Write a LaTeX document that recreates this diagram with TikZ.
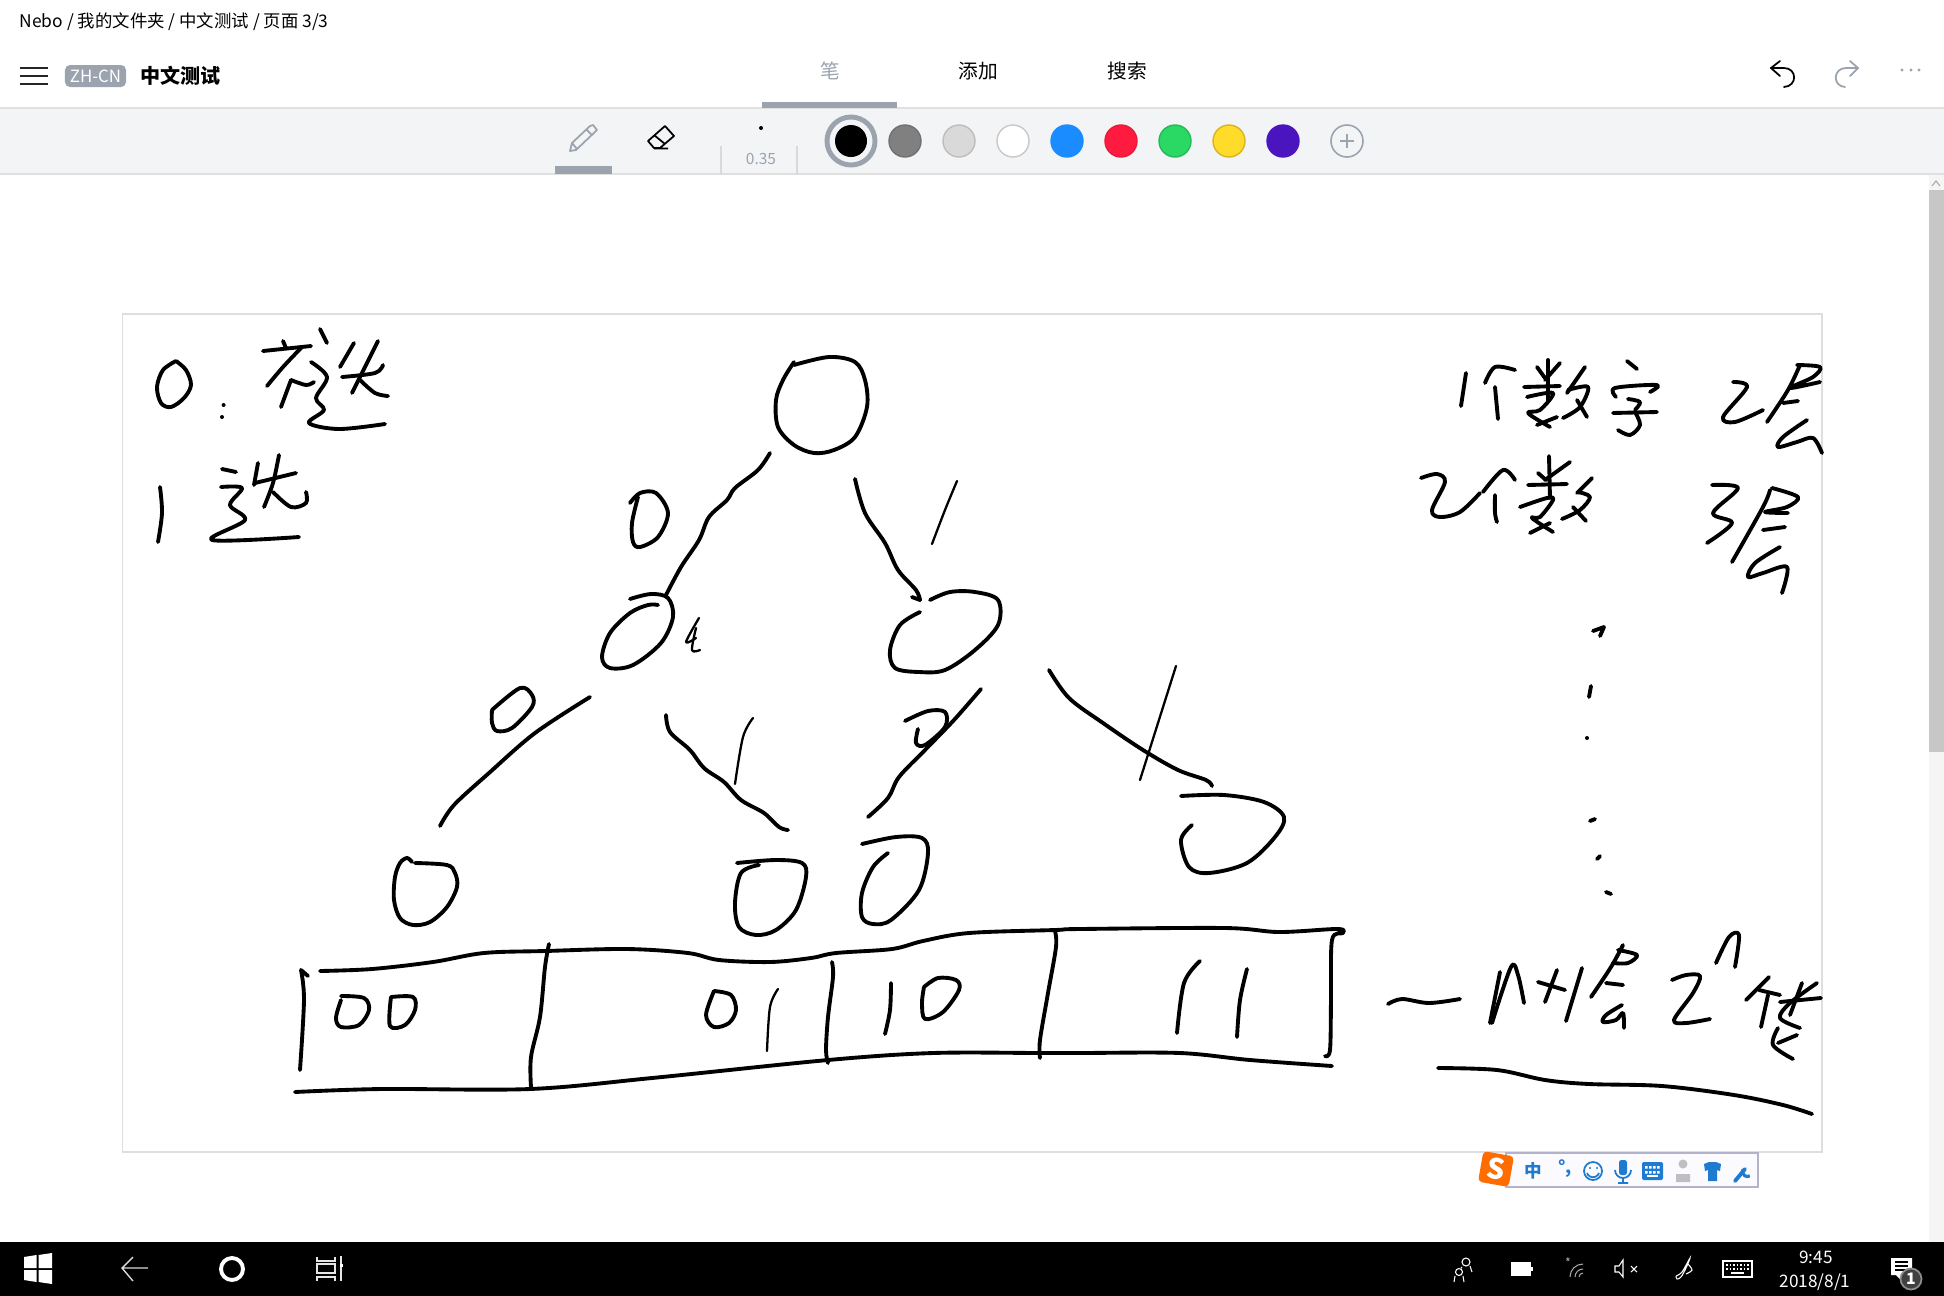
\documentclass[tikz,border=0pt]{standalone}
\usepackage{fontspec}
\setmainfont{Noto Sans CJK SC}
\definecolor{uigray}{HTML}{9AA3AE}
\definecolor{barbg}{HTML}{F3F4F6}
\definecolor{sogoublue}{HTML}{1F7BD0}
\newcommand{\pen}[2][ink]{\draw[#1] plot[smooth, tension=0.55] coordinates {#2};}
\tikzset{
	ink/.style={black, line width=1.1pt, line cap=round, line join=round},
	thinink/.style={black, line width=0.65pt, line cap=round, line join=round},
	label/.style={inner sep=0pt, font=\fontsize{5.6}{6}\selectfont},
	swatch/.style={line width=0.4pt},
	tray/.style={white, line width=0.3pt},
	ime/.style={sogoublue, line width=0.5pt}
}
\begin{document}
\begin{tikzpicture}[x=0.01cm, y=-0.01cm]
	\useasboundingbox (0,0) rectangle (1944,1296);
	\fill[white] (0,0) rectangle (1944,1296);

	% header
	\node[label, anchor=west, font=\fontsize{4.95}{5}\selectfont] (crumb) at (19,22) {Nebo / 我的文件夹 / 中文测试 / 页面 3/3};
	\foreach \y in {68,76,84}
		\draw[black!85, line width=0.6pt] (20,\y) -- (48,\y);
	\node[fill=uigray, rounded corners=0.5mm, text=white, inner sep=0pt, minimum width=6.1mm, minimum height=2.2mm, font=\fontsize{4.8}{5}\selectfont] (badge) at (95.5,76) {ZH-CN};
	\node[label, anchor=west, font=\fontsize{5.7}{6}\bfseries] (title) at (140,76) {中文测试};
	\node[label, text=uigray] (tabpen) at (830,71) {笔};
	\node[label] (tabadd) at (978,71) {添加};
	\node[label] (tabsearch) at (1127,71) {搜索};
	\draw[line width=0.5pt, line cap=round, line join=round] (1780,61) -- (1771,68) -- (1780,76);
	\draw[line width=0.5pt, line cap=round] (1771,68) -- (1784,68) .. controls (1797,68) and (1798,86) .. (1784,87);
	\draw[uigray, line width=0.5pt, line cap=round, line join=round] (1850,61) -- (1858,68) -- (1850,76);
	\draw[uigray, line width=0.5pt, line cap=round] (1858,68) -- (1846,68) .. controls (1833,68) and (1832,86) .. (1845,87);
	\foreach \x in {1902,1911,1919}
		\fill[uigray] (\x,70) circle[radius=1.7];

	% toolbar
	\fill[barbg] (0,108) rectangle (1944,174);
	\draw[black!12, line width=0.5pt] (0,108) -- (1944,108) (0,174) -- (1944,174);
	\fill[uigray] (762,102) rectangle (897,108);
	\draw[uigray, line width=0.5pt, line join=round] (570,151) -- (572,143) -- (590,126) -- (593,125) -- (597,130) -- (576,150) -- cycle (572,143) -- (577,149) (587,130) -- (592,135);
	\fill[uigray] (555,166) rectangle (612,174);
	\draw[line width=0.5pt, line join=round] (665,126) -- (674,136) -- (660,148) -- (654,148) -- (648,141) -- cycle (654,135) -- (665,144) (654,148.5) -- (668,148.5);
	\fill (761,128) circle[radius=2];
	\draw[black!15, line width=0.4pt] (721,146) -- (721,174) (797,146) -- (797,174);
	\node[label, text=uigray, font=\fontsize{4.4}{5}\selectfont] (penwidth) at (761,159) {0.35};
	\draw[uigray, line width=1.4pt] (851,141) circle[radius=24];
	\fill[black] (851,141) circle[radius=16];
	\foreach \x/\fillc/\drawc in {905/808080/707070, 959/D9D9D9/BDBDBD, 1013/FFFFFF/C8C8C8, 1067/1A8CFF/1A8CFF, 1121/FF1A40/E81A3C, 1175/2AD964/25B858, 1229/FFDB2A/D8B520, 1283/4A14BF/4A14BF}{
		\definecolor{cfill}{HTML}{\fillc}
		\definecolor{cdraw}{HTML}{\drawc}
		\filldraw[swatch, fill=cfill, draw=cdraw] (\x,141) circle[radius=16];
	}
	\draw[uigray, line width=0.45pt] (1347,141) circle[radius=16];
	\draw[uigray, line width=0.45pt] (1340,141) -- (1354,141) (1347,134) -- (1347,148);

	% scrollbar
	\fill[black!4] (1929,175) rectangle (1944,1242);
	\fill[black!22] (1929,190) rectangle (1944,752);
	\draw[black!35, line width=0.3pt] (1932,186) -- (1936,181) -- (1940,186);

	% page
	\draw[black!13, line width=0.55pt] (122.5,314) rectangle (1822,1152);

	% legend
	\pen{(176,361) (186,370) (191,385) (184,398) (171,407) (161,403) (157,387) (163,370) (176,361)}
	\fill (223.6,405) circle[radius=2] (222,417) circle[radius=2];
	\pen{(263,351) (311,346)}
	\pen{(283,341) (286,348)}
	\pen{(301,348) (283,367) (267,386)}
	\pen{(291,380) (281,407)}
	\pen{(291,380) (306,385) (314,382)}
	\pen{(320,329) (327,343)}
	\pen{(311,362) (327,377) (316,398) (324,410) (309,423) (339,429) (385,424)}
	\pen{(354,343) (340,367)}
	\pen{(378,341) (365,367) (352,393)}
	\pen{(342,377) (375,373) (383,365)}
	\pen{(360,380) (375,393) (388,396)}
	\pen{(160,487) (162,513) (158,542)}
	\pen{(222,469) (236,472)}
	\pen{(221,487) (242,488) (230,505) (245,520) (212,540) (299,537)}
	\pen{(258,463) (254,485)}
	\pen{(279,455) (273,483) (264,507)}
	\pen{(255,483) (296,473)}
	\pen{(273,492) (291,507) (306,503) (306,492)}

	% tree
	\pen{(794,365) (829,357) (855,362) (865,380) (867,407) (855,437) (834,450) (814,453) (794,445) (778,427) (776,400) (783,380) (794,362)}
	\pen{(770,453) (758,470) (735,488) (727,500) (709,517) (699,540) (681,567) (666,595)}
	\pen{(855,479) (865,513) (885,543) (898,570) (916,590) (920,600)}
	\pen{(912,597) (920,600)}
	\pen{(630,503) (640,493) (656,493) (668,513) (658,537) (640,547) (633,542) (632,523) (638,497)}
	\pen[thinink]{(957,481) (945,510) (932,544)}
	\pen{(630,599) (651,594) (668,598) (673,617) (661,643) (633,665) (610,668) (602,657) (610,633) (630,613) (648,605) (658,605)}
	\pen[thinink]{(699,618) (686,642) (696,638)}
	\pen[thinink]{(696,628) (692,650) (700,650)}
	\pen{(920,612) (900,625) (890,650) (895,668) (919,672) (945,670) (975,650) (998,625) (998,600) (975,592) (950,592) (930,600)}

	\pen{(492,710) (520,688) (532,695) (532,707) (512,728) (497,731) (492,723) (492,710)}
	\pen{(590,697) (535,733) (489,773) (454,805) (440,826)}
	\pen{(666,715) (670,732) (690,750) (704,768) (724,782) (741,800) (764,813) (779,827) (788,830)}
	\pen[thinink]{(753,718) (743,737) (735,784)}
	\pen{(981,689) (954,720) (925,750) (899,777) (888,798) (868,817)}
	\pen{(905,721) (928,711) (945,712) (945,727) (925,745) (916,743) (918,729)}
	\pen{(1049,670) (1069,698) (1103,723) (1143,750) (1178,770) (1206,780) (1212,786)}
	\pen[thinink]{(1176,666) (1140,780)}

	\pen{(415,863) (447,865) (455,873) (457,887) (447,907) (430,922) (413,925) (400,918) (394,900) (395,877) (400,863) (407,858) (412,862)}
	\pen{(737,863) (776,860) (802,863) (806,877) (796,910) (776,930) (756,935) (739,927) (735,903) (741,873) (759,865)}
	\pen{(862,844) (896,837) (922,838) (928,853) (919,890) (891,920) (873,924) (862,917) (862,893) (873,867) (888,853)}
	\pen{(1181,796) (1224,795) (1264,802) (1284,817) (1275,837) (1247,863) (1209,873) (1189,867) (1181,840) (1192,825)}

	% table
	\pen{(301,970) (304,1000) (300,1070)}
	\pen{(301,970) (308,976)}
	\pen{(320,971) (372,969) (433,962) (484,953) (545,951) (627,949) (688,953) (719,960) (770,962) (811,958) (836,953) (892,949) (923,941) (969,933) (1055,930) (1080,929) (1225,928) (1279,932) (1337,929) (1343,933) (1332,940) (1331,1000) (1330,1050) (1325,1056)}
	\pen{(295,1092) (382,1089) (530,1089) (652,1078) (828,1060) (933,1053) (1040,1053) (1080,1053) (1180,1053) (1250,1060) (1332,1066)}
	\pen{(549,944) (545,967) (540,1017) (531,1057) (531,1087)}
	\pen{(832,962) (833,977) (828,1017) (826,1050) (828,1063)}
	\pen{(1055,931) (1056,947) (1048,993) (1040,1040) (1040,1058)}
	\pen{(341,996) (364,998) (369,1010) (359,1025) (341,1027) (336,1018) (341,1000)}
	\pen{(391,997) (413,997) (415,1010) (405,1025) (390,1026) (391,997)}
	\pen{(714,991) (731,995) (736,1010) (729,1023) (714,1027) (706,1015) (714,991)}
	\pen[thinink]{(778,989) (770,1007) (767,1051)}
	\pen{(891,983) (890,1010) (885,1034)}
	\pen{(924,987) (938,978) (956,980) (959,990) (943,1012) (925,1019) (922,1003) (924,987)}
	\pen{(1200,961) (1184,983) (1177,1033)}
	\pen{(1247,969) (1240,1000) (1237,1037)}

	% notes on the right
	\pen{(1466,373) (1461,406)}
	\pen{(1485,383) (1495,367) (1515,370)}
	\pen{(1495,387) (1498,419)}
	\pen{(1537,367) (1545,378)}
	\pen{(1560,363) (1545,380)}
	\pen{(1524,387) (1560,386)}
	\pen{(1548,360) (1548,400)}
	\pen{(1527,397) (1553,393) (1540,410) (1528,413) (1550,427)}
	\pen{(1537,425) (1557,417)}
	\pen{(1585,367) (1567,393)}
	\pen{(1568,390) (1588,387) (1580,407) (1563,418)}
	\pen{(1577,400) (1587,417)}
	\pen{(1627,361) (1637,369)}
	\pen{(1616,397) (1615,388) (1657,385) (1650,392)}
	\pen{(1628,399) (1640,402) (1635,410)}
	\pen{(1613,413) (1657,412)}
	\pen{(1635,412) (1640,425) (1630,435) (1618,430)}
	\pen{(1733,382) (1747,387) (1723,417) (1735,422) (1763,410)}
	\pen{(1800,365) (1788,390) (1767,422)}
	\pen{(1797,365) (1820,367) (1813,377) (1790,388) (1820,382)}
	\pen{(1783,403) (1798,401)}
	\pen{(1807,420) (1783,437) (1778,447) (1797,442) (1813,438) (1822,453)}

	\pen{(1421,478) (1437,474) (1445,482) (1432,510) (1440,517) (1460,512) (1480,493)}
	\pen{(1483,492) (1503,470) (1515,480)}
	\pen{(1495,495) (1495,513) (1497,522)}
	\pen{(1538,473) (1546,480)}
	\pen{(1570,462) (1545,480)}
	\pen{(1528,485) (1567,484)}
	\pen{(1549,456) (1550,498)}
	\pen{(1520,507) (1547,498) (1553,500) (1540,517) (1532,518) (1553,532)}
	\pen{(1530,533) (1550,523)}
	\pen{(1592,478) (1577,493)}
	\pen{(1578,492) (1590,497) (1580,510) (1562,519)}
	\pen{(1573,507) (1586,521)}
	\pen{(1712,485) (1738,488) (1713,513) (1732,523) (1707,543)}
	\pen{(1770,490) (1763,507) (1732,562)}
	\pen{(1772,488) (1798,497) (1787,507) (1765,512) (1788,513)}
	\pen{(1763,530) (1785,527)}
	\pen{(1780,547) (1755,563) (1748,577) (1763,573) (1787,567) (1782,593)}

	\draw[ink] (1593,631) -- (1604,627) -- (1600,636);
	\draw[ink] (1591,686) -- (1589,697);
	\fill (1587,738) circle[radius=2];
	\draw[ink] (1590,821) -- (1595,819);
	\draw[ink] (1597,859) -- (1600,856);
	\draw[ink] (1606,892) -- (1611,894);

	% last row note
	\pen{(1388,1004) (1402,999) (1429,1003) (1460,999)}
	\pen{(1490,1023) (1500,972)}
	\pen{(1492,1023) (1511,967) (1518,975) (1524,1003)}
	\pen{(1538,982) (1565,990)}
	\pen{(1557,970) (1545,1002)}
	\pen{(1582,968) (1566,1021)}
	\pen{(1623,945) (1611,967) (1591,997)}
	\pen{(1618,950) (1637,955) (1628,963) (1613,963)}
	\pen{(1606,983) (1623,985)}
	\pen{(1622,1005) (1606,1015) (1603,1022) (1616,1020) (1623,1013) (1624,1028)}
	\pen{(1672,980) (1686,975) (1700,976) (1693,993) (1674,1020) (1686,1023) (1710,1019)}
	\pen{(1716,963) (1729,937) (1739,935) (1735,967)}
	\pen{(1769,977) (1746,1000)}
	\pen{(1759,990) (1780,995)}
	\pen{(1768,995) (1761,1027)}
	\pen{(1780,1002) (1821,998)}
	\pen{(1817,983) (1790,1003) (1780,1018) (1800,1028)}
	\pen{(1802,983) (1790,1015)}
	\pen{(1778,1028) (1773,1045) (1793,1059)}
	\pen{(1797,1035) (1778,1043)}
	\pen{(1438,1068) (1497,1070) (1545,1080) (1589,1084) (1662,1086) (1734,1095) (1783,1105) (1812,1114)}

	% input method bar
	\filldraw[fill=blue!2, draw=blue!30!black!30, line width=0.35pt] (1506,1153) rectangle (1758,1187);
	\node[fill=orange!85!red, rotate=-10, rounded corners=0.4mm, text=white, inner sep=0pt, minimum size=3.1mm, font=\fontsize{8}{8}\bfseries] (sogou) at (1496,1169) {S};
	\node[label, text=sogoublue, font=\fontsize{5}{5}\bfseries] (imelang) at (1533,1171) {中};
	\node[label, text=sogoublue, font=\fontsize{5}{5}\bfseries] (imepunct) at (1565,1169) {°,};
	\draw[ime] (1593,1171) circle[radius=9];
	\fill[sogoublue] (1590,1168) circle[radius=1.2] (1597,1168) circle[radius=1.2];
	\draw[ime] (1587,1173) arc[start angle=160, end angle=20, radius=6.4];
	\fill[sogoublue, rounded corners=0.25mm] (1619,1160) rectangle (1627,1175);
	\draw[ime] (1615,1170) arc[start angle=180, end angle=0, radius=8] (1623,1178) -- (1623,1183) (1618,1183) -- (1628,1183);
	\fill[sogoublue, rounded corners=0.2mm] (1642,1162) rectangle (1663,1180);
	\foreach \x in {1645,1649,1653,1657}
		\fill[white] (\x,1166) rectangle +(2.5,2.5) (\x,1171) rectangle +(2.5,2.5);
	\fill[white] (1647,1175) rectangle (1658,1177);
	\fill[black!25] (1683,1164) circle[radius=4.5] (1676,1182) -- (1676,1174) -- (1690,1174) -- (1690,1182) -- cycle;
	\fill[sogoublue] (1704,1164) -- (1709,1162) -- (1716,1162) -- (1721,1164) -- (1720,1171) -- (1717,1170) -- (1717,1181) -- (1708,1181) -- (1708,1170) -- (1705,1171) -- cycle;
	\draw[sogoublue, line width=1.1pt, line cap=round] (1735,1181) -- (1745,1169);
	\draw[sogoublue, line width=0.9pt] (1743,1169) arc[start angle=210, end angle=60, radius=5];

	% taskbar
	\fill[black] (0,1242) rectangle (1944,1296);
	\fill[white] (24,1257) -- (36.5,1255) -- (36.5,1268) -- (24,1268) -- cycle (38.5,1255) -- (52,1253) -- (52,1268) -- (38.5,1268) -- cycle (24,1270) -- (36.5,1270) -- (36.5,1282) -- (24,1280) -- cycle (38.5,1270) -- (52,1270) -- (52,1284) -- (38.5,1282) -- cycle;
	\draw[black!15, line width=0.4pt] (122,1268) -- (148,1268) (133,1257) -- (122,1268) -- (133,1281);
	\draw[white, line width=1.1pt] (232,1269) circle[radius=11];
	\draw[black!10, line width=0.4pt] (317,1257) -- (317,1261) -- (335,1261) -- (335,1257) (317,1264) rectangle (335,1273) (317,1281) -- (317,1277) -- (335,1277) -- (335,1281) (341,1256) -- (341,1281);
	\fill[white] (339.5,1263.5) rectangle (342.5,1266.5);

	\draw[tray] (1466,1262) circle[radius=4] (1459,1272) circle[radius=3.5] (1461,1268) -- (1462,1267) (1472,1272) -- (1470,1266) (1454,1282) -- (1455,1276) (1464,1282) -- (1463,1276);
	\filldraw[fill=white, draw=white, line width=0.3pt] (1512,1263) rectangle (1530,1275);
	\fill[white] (1531,1267) rectangle (1532.5,1271);
	\node[label, text=black!30, font=\fontsize{3.5}{4}\selectfont] (wifistar) at (1568,1263) {*};
	\draw[black!35, line width=0.3pt] (1570,1277) arc[start angle=180, end angle=270, radius=13] (1575,1277) arc[start angle=180, end angle=270, radius=8] (1579,1277) arc[start angle=180, end angle=270, radius=4];
	\draw[tray] (1615,1266) -- (1619,1266) -- (1623,1260) -- (1623,1277) -- (1619,1272) -- (1615,1272) -- cycle (1631,1266) -- (1637,1272) (1637,1266) -- (1631,1272);
	\pen[tray]{(1676,1276) (1682,1272) (1690,1258) (1686,1268) (1681,1277) (1677,1279) (1676,1276)}
	\pen[tray]{(1688,1264) (1692,1270) (1686,1274)}
	\draw[tray] (1723,1261) rectangle (1752,1277);
	\foreach \y in {1265,1269}
		\draw[white, line width=0.3pt, dash pattern=on 0.5pt off 0.5pt] (1726,\y) -- (1749,\y);
	\draw[white, line width=0.4pt] (1731,1273) -- (1744,1273);
	\node[label, text=white, font=\fontsize{4.9}{5}\selectfont] (clock) at (1816,1257) {9:45};
	\node[label, text=white, font=\fontsize{4.9}{5}\selectfont] (date) at (1815,1282) {2018/8/1};
	\fill[white] (1891,1258) rectangle (1912,1275) (1896,1275) -- (1903,1275) -- (1903,1282) -- cycle;
	\draw[black, line width=0.4pt] (1895,1262) -- (1908,1262) (1895,1266) -- (1908,1266) (1895,1270) -- (1908,1270);
	\filldraw[fill=black!75, draw=black!45, line width=0.5pt] (1911,1279) circle[radius=10.5];
	\node[label, text=white, font=\fontsize{4.5}{5}\bfseries] (badgecount) at (1911,1279) {1};
\end{tikzpicture}
\end{document}
